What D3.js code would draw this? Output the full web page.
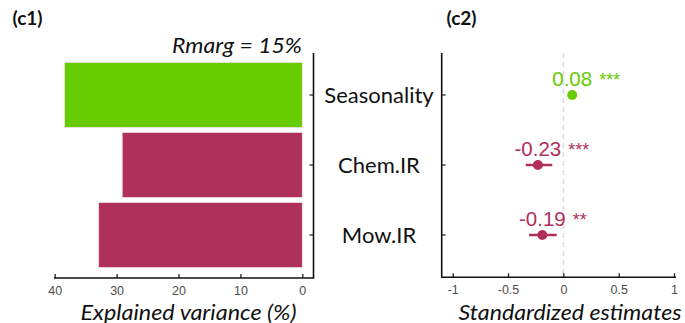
<!DOCTYPE html>
<html>
<head>
<meta charset="utf-8">
<script src="https://cdn.jsdelivr.net/npm/d3@7/dist/d3.min.js"></script>
<style>
  html, body { margin: 0; padding: 0; background: #fff; }
  svg { display: block; }
</style>
</head>
<body>
<svg id="chart" width="685" height="323"></svg>
<script>
// Predictors and their group colours
const predictors = ["Seasonality", "Chem.IR", "Mow.IR"];
const predictorColors = ["#66cc00", "#b0305c", "#b0305c"];

// (c1) explained variance per predictor (%)
const explainedVariance = [38.4, 29.1, 32.9];
const varianceTicks = [40, 30, 20, 10, 0];
const rMarginal = 15;

// (c2) standardized estimates with confidence limits and significance
const estimates = [0.08, -0.23, -0.19];
const ciLow = [0.05, -0.34, -0.31];
const ciHigh = [0.11, -0.10, -0.06];
const significance = ["***", "***", "**"];
const estimateTicks = [-1, -0.5, 0, 0.5, 1];

const svg = d3.select("#chart");
const labelFont = "Lato, 'Open Sans', sans-serif";
const tickFont = "'Liberation Sans', Arial, sans-serif";

// shared vertical band scale
const y = d3.scaleBand().domain(predictors).range([60, 270])
  .paddingInner(0.07).paddingOuter(0.035);

const plotTop = 53, plotBottom = 278;

// ---------- (c1) bars ----------
const x1 = d3.scaleLinear().domain([40, 0]).range([54.7, 302.3]);
const axisX1 = 313.5;

const g1 = svg.append("g");
g1.selectAll("rect.bar").data(predictors).join("rect")
  .attr("class", "bar")
  .attr("x", (d, i) => x1(explainedVariance[i]))
  .attr("y", d => y(d))
  .attr("width", (d, i) => x1(0) - x1(explainedVariance[i]))
  .attr("height", y.bandwidth())
  .attr("fill", (d, i) => predictorColors[i])
  .attr("stroke", "#f6dde6")
  .attr("stroke-width", 0.8);

// bottom axis (ticks pointing up)
const bx1 = g1.append("g").attr("transform", `translate(0,${plotBottom})`)
  .call(d3.axisBottom(x1).tickValues(varianceTicks).tickSizeInner(-4).tickSizeOuter(0).tickPadding(8)
    .tickFormat(d3.format("d")));
bx1.select(".domain").remove();
bx1.selectAll(".tick line").attr("stroke", "#222").attr("stroke-width", 1.3);
bx1.selectAll(".tick text").attr("font-family", tickFont).attr("font-size", 12.5).attr("fill", "#4d4d4d");
g1.append("line").attr("x1", 54).attr("x2", axisX1 + 0.75).attr("y1", plotBottom).attr("y2", plotBottom)
  .attr("stroke", "#111").attr("stroke-width", 1.6);

// right-hand axis with inward ticks
const ay1 = g1.append("g").attr("transform", `translate(${axisX1},0)`)
  .call(d3.axisRight(y).tickSizeInner(-4).tickSizeOuter(0).tickFormat(""));
ay1.select(".domain").remove();
ay1.selectAll(".tick line").attr("stroke", "#222").attr("stroke-width", 1.2);
g1.append("line").attr("x1", axisX1).attr("x2", axisX1).attr("y1", plotTop).attr("y2", plotBottom)
  .attr("stroke", "#111").attr("stroke-width", 1.6);

g1.append("text").attr("x", 302).attr("y", 53).attr("text-anchor", "end")
  .attr("font-family", labelFont).attr("font-style", "italic").attr("font-size", 22)
  .attr("textLength", 130).attr("lengthAdjust", "spacingAndGlyphs")
  .attr("fill", "#111").text(`Rmarg = ${rMarginal}%`);

g1.append("text").attr("x", 188.5).attr("y", 320).attr("text-anchor", "middle")
  .attr("font-family", labelFont).attr("font-style", "italic").attr("font-size", 21)
  .attr("textLength", 216).attr("lengthAdjust", "spacingAndGlyphs")
  .attr("fill", "#111").text("Explained variance (%)");

svg.append("text").attr("x", 12.5).attr("y", 25)
  .attr("font-family", labelFont).attr("font-weight", "bold").attr("font-size", 19)
  .attr("fill", "#111").text("(c1)");

// ---------- predictor names between panels ----------
svg.append("g").selectAll("text").data(predictors).join("text")
  .attr("x", 379).attr("y", d => y(d) + y.bandwidth() / 2).attr("dy", "0.36em")
  .attr("text-anchor", "middle").attr("font-family", labelFont).attr("font-size", 22)
  .attr("fill", "#111").text(d => d);

// ---------- (c2) estimates ----------
const x2 = d3.scaleLinear().domain([-1, 1]).range([452.7, 674]);
const axisX2 = 441.7;
const g2 = svg.append("g");

// zero reference line
g2.append("line").attr("x1", x2(0)).attr("x2", x2(0)).attr("y1", plotTop).attr("y2", plotBottom)
  .attr("stroke", "#dcdcdc").attr("stroke-width", 1.6).attr("stroke-dasharray", "5,4");

const bx2 = g2.append("g").attr("transform", `translate(0,${plotBottom - 0.7})`)
  .call(d3.axisBottom(x2).tickValues(estimateTicks).tickSizeInner(-4).tickSizeOuter(0).tickPadding(8)
    .tickFormat(d => String(d)));
bx2.select(".domain").remove();
bx2.selectAll(".tick line").attr("stroke", "#222").attr("stroke-width", 1.3);
bx2.selectAll(".tick text").attr("font-family", tickFont).attr("font-size", 12.5).attr("fill", "#4d4d4d");
g2.append("line").attr("x1", axisX2 - 0.75).attr("x2", 676).attr("y1", plotBottom - 0.7).attr("y2", plotBottom - 0.7)
  .attr("stroke", "#111").attr("stroke-width", 1.6);

const ay2 = g2.append("g").attr("transform", `translate(${axisX2},0)`)
  .call(d3.axisLeft(y).tickSizeInner(-4).tickSizeOuter(0).tickFormat(""));
ay2.select(".domain").remove();
ay2.selectAll(".tick line").attr("stroke", "#222").attr("stroke-width", 1.2);
g2.append("line").attr("x1", axisX2).attr("x2", axisX2).attr("y1", plotTop).attr("y2", plotBottom - 0.7)
  .attr("stroke", "#111").attr("stroke-width", 1.6);

const cy = d => y(d) + y.bandwidth() / 2;

g2.selectAll("line.ci").data(predictors).join("line").attr("class", "ci")
  .attr("x1", (d, i) => x2(ciLow[i])).attr("x2", (d, i) => x2(ciHigh[i]))
  .attr("y1", cy).attr("y2", cy)
  .attr("stroke", (d, i) => predictorColors[i]).attr("stroke-width", 2.5);

g2.selectAll("circle.est").data(predictors).join("circle").attr("class", "est")
  .attr("cx", (d, i) => x2(estimates[i])).attr("cy", cy).attr("r", 5)
  .attr("fill", (d, i) => predictorColors[i]);

const valueLabels = g2.selectAll("text.val").data(predictors).join("text").attr("class", "val")
  .attr("x", (d, i) => x2(estimates[i])).attr("y", d => cy(d) - 9)
  .attr("text-anchor", "middle").attr("font-family", tickFont).attr("font-size", 20.5)
  .attr("fill", (d, i) => predictorColors[i])
  .text((d, i) => d3.format(".2f")(estimates[i]).replace("−", "-"));

valueLabels.each(function(d, i) {
  const bb = this.getBBox();
  g2.append("text").attr("x", bb.x + bb.width + 7).attr("y", cy(d) - 9)
    .attr("font-family", tickFont).attr("font-size", 18)
    .attr("fill", predictorColors[i]).text(significance[i]);
});

g2.append("text").attr("x", 570).attr("y", 320).attr("text-anchor", "middle")
  .attr("font-family", labelFont).attr("font-style", "italic").attr("font-size", 21)
  .attr("textLength", 223).attr("lengthAdjust", "spacingAndGlyphs")
  .attr("fill", "#111").text("Standardized estimates");

svg.append("text").attr("x", 446.5).attr("y", 25)
  .attr("font-family", labelFont).attr("font-weight", "bold").attr("font-size", 19)
  .attr("fill", "#111").text("(c2)");
</script>
</body>
</html>
